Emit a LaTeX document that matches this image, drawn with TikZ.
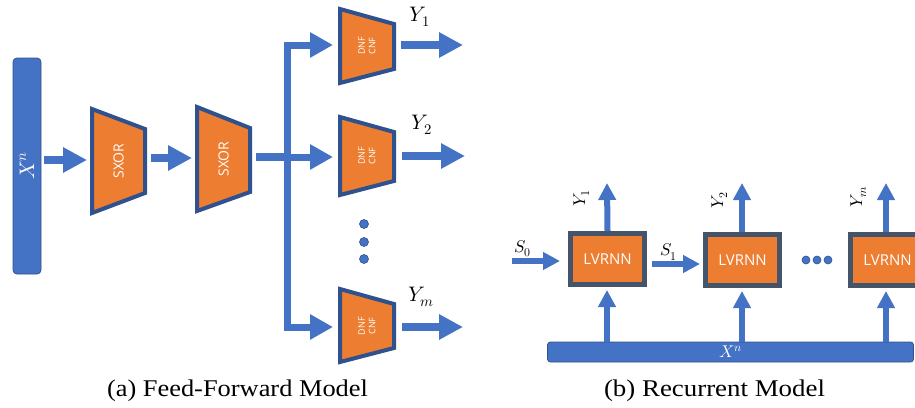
\documentclass[tikz,border=0pt]{standalone}
\usepackage{fontspec}
\usepackage{unicode-math}
\setmathfont{Latin Modern Math}
\newfontfamily\labfont{Open Sans}
\newfontfamily\capfont{Liberation Serif}
\usetikzlibrary{arrows.meta}
\definecolor{barblue}{HTML}{4472C4}
\definecolor{edgeblue}{HTML}{2F528F}
\definecolor{boxorange}{HTML}{ED7D31}
\definecolor{slate}{HTML}{44546A}
\begin{document}
\begin{tikzpicture}[x=1pt,y=-1pt,
  trap/.style={draw=edgeblue, fill=boxorange, line width=4pt, line join=miter},
  sxortext/.style={text=white, rotate=90, font=\labfont\fontsize{14}{16}\selectfont, inner sep=0pt},
  nftext/.style={text=white, rotate=90, align=center, font=\labfont\fontsize{9}{10.5}\selectfont, inner sep=0pt},
  inbar/.style={draw=edgeblue, line width=0.8pt, fill=barblue, rounded corners=4pt, text=white, inner sep=0pt},
  bigarrow/.style={draw=barblue, line width=8pt, -{Triangle[length=24pt,width=24pt]}},
  shaft/.style={draw=barblue, line width=7pt, line join=miter},
  smallarrow/.style={draw=barblue, line width=6pt, -{Triangle[length=17pt,width=17pt]}},
  lvbox/.style={draw=slate, fill=boxorange, line width=5pt, minimum width=74pt, minimum height=51pt,
    text=white, font=\labfont\fontsize{15}{18}\selectfont, inner sep=0pt},
  dot/.style={circle, fill=barblue, draw=edgeblue, line width=0.6pt, minimum size=9pt, inner sep=0pt},
  ylab/.style={font=\fontsize{21}{25}\selectfont, inner sep=0pt},
  slab/.style={font=\fontsize{17}{20}\selectfont, inner sep=0pt},
  caption/.style={font=\capfont\fontsize{24}{28}\selectfont, anchor=base, inner sep=0pt}]
\clip (0,0) rectangle (915,407);

% ---------- (a) feed-forward model ----------
\node[inbar, minimum width=28pt, minimum height=216pt] (xl) at (27,166)
  {\rotatebox{90}{\fontsize{21}{25}\selectfont$X^n$}};

% first SXOR layer
\draw[trap] (92,109) -- (145,129) -- (145,193) -- (92,213) -- cycle;
\coordinate (s1w) at (92,160);
\coordinate (s1e) at (145,158);
\node[sxortext] (s1) at (118.5,161) {SXOR};

% second SXOR layer
\draw[trap] (197,107) -- (250,128) -- (250,192) -- (197,211) -- cycle;
\coordinate (s2w) at (197,158);
\coordinate (s2e) at (250,157);
\node[sxortext] (s2) at (223.5,159) {SXOR};

% DNF/CNF output heads
\draw[trap] (340,9) -- (394,24) -- (394,69) -- (340,83) -- cycle;
\coordinate (d1w) at (340,45);
\coordinate (d1e) at (394,45);
\node[nftext] (d1) at (367,46) {DNF\\CNF};

\draw[trap] (340,117) -- (394,132) -- (394,181) -- (340,195) -- cycle;
\coordinate (d2w) at (340,157);
\coordinate (d2e) at (394,156);
\node[nftext] (d2) at (367,156) {DNF\\CNF};

\draw[trap] (340,289) -- (394,304) -- (394,348) -- (340,362) -- cycle;
\coordinate (dmw) at (340,327);
\coordinate (dme) at (394,327);
\node[nftext] (dm) at (367,326) {DNF\\CNF};

% connectors
\coordinate (br) at (287,157);
\draw[bigarrow, shorten <=3pt, shorten >=5pt] (xl.east |- s1w) -- (s1w);
\draw[bigarrow, shorten <=6pt, shorten >=5pt] (s1e) -- (s2w);
\draw[shaft, line width=8pt, shorten <=6pt] (s2e) -- (br);
\draw[shaft, -{Triangle[length=23pt,width=24pt]}, shorten >=7pt] (br) |- (d1w);
\draw[shaft, -{Triangle[length=23pt,width=24pt]}, shorten >=7pt] (br) -- (d2w);
\draw[shaft, -{Triangle[length=23pt,width=24pt]}, shorten >=7pt] (br) |- (dmw);

\coordinate (o1) at (463,45);
\coordinate (o2) at (465,156);
\coordinate (om) at (463,327);
\draw[bigarrow, shorten <=7pt] (d1e) -- (o1);
\draw[bigarrow, shorten <=8pt] (d2e) -- (o2);
\draw[bigarrow, shorten <=8pt] (dme) -- (om);

\node[ylab] (y1a) at (420,17) {$Y_1$};
\node[ylab] (y2a) at (422,125) {$Y_2$};
\node[ylab] (yma) at (421,297) {$Y_m$};

\node[dot] (v1) at (364,224) {};
\node[dot] (v2) at (364,242) {};
\node[dot] (v3) at (364,259) {};

% ---------- (b) recurrent model ----------
\node[inbar, minimum width=366pt, minimum height=20pt, rounded corners=3pt] (xr) at (730.5,352)
  {\fontsize{17}{20}\selectfont$X^n$};

\node[lvbox] (l1) at (607.5,259) {LVRNN};
\node[lvbox] (l2) at (742.5,260) {LVRNN};
\node[lvbox] (l3) at (887.5,260) {LVRNN};

\coordinate (q1) at (607,183);
\coordinate (q2) at (742,183);
\coordinate (q3) at (886,183);
\draw[smallarrow] (l1.north) -- (q1);
\draw[smallarrow] (l2.north -| q2) -- (q2);
\draw[smallarrow] (l3.north -| q3) -- (q3);

\draw[smallarrow, shorten >=3pt] (xr.north -| q1) -- (l1.south -| q1);
\draw[smallarrow, shorten >=3pt] (xr.north -| q2) -- (l2.south -| q2);
\draw[smallarrow, shorten >=3pt] (xr.north -| q3) -- (l3.south -| q3);

\coordinate (s0) at (512,261);
\coordinate (sy) at (0,264);
\draw[smallarrow, shorten >=8pt] (s0) -- (l1.west |- s0);
\draw[smallarrow, shorten <=5pt, shorten >=3pt] (l1.east |- sy) -- (l2.west |- sy);

\node[slab] (s0l) at (523,249) {$S_0$};
\node[slab] (s1l) at (669,252) {$S_1$};
\node[slab, rotate=90] (y1b) at (582,198) {$Y_1$};
\node[slab, rotate=90] (y2b) at (720,200) {$Y_2$};
\node[slab, rotate=90] (ymb) at (859,197) {$Y_m$};

\node[dot, minimum size=8pt] (h1) at (806,260) {};
\node[dot, minimum size=8pt] (h2) at (817,260) {};
\node[dot, minimum size=8pt] (h3) at (828,260) {};

% ---------- captions ----------
\node[caption] (capa) at (237.5,396) {\scalebox{1.1}[1]{(a) Feed-Forward Model}};
\node[caption] (capb) at (714.5,396) {\scalebox{1.12}[1]{(b) Recurrent Model}};
\end{tikzpicture}
\end{document}
